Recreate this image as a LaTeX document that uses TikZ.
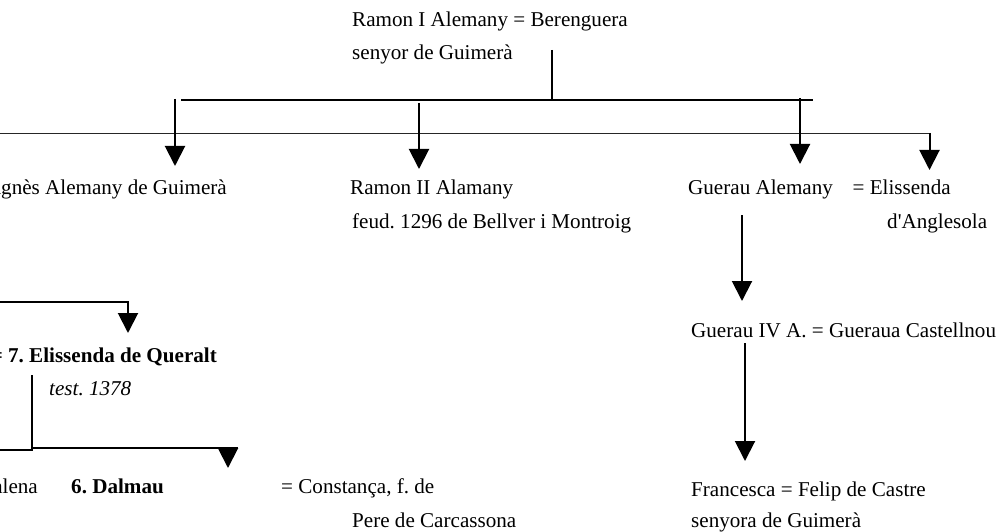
\documentclass[tikz,border=0pt]{standalone}
\usepackage{fontspec}
\setmainfont{Liberation Serif}
\usetikzlibrary{arrows.meta}
\frenchspacing
\begin{document}
\begin{tikzpicture}[x=1pt,y=-1pt,
  txt/.style={anchor=base west, inner sep=0pt, font=\fontsize{21.1pt}{25pt}\selectfont},
  txtr/.style={anchor=base east, inner sep=0pt, font=\fontsize{21.1pt}{25pt}\selectfont},
  lnk/.style={line width=2pt, black},
  lnkthin/.style={line width=1.6pt, black!85},
  arr/.style={lnk, -{Triangle[length=20pt,width=20pt]}}]
\useasboundingbox (0,0) rectangle (1001,532);
\fill[white] (0,0) rectangle (1001,532);
\clip (0,0) rectangle (1001,532);

% texts
\node[txt] (r1) at (352,27) {Ramon I Alemany = Berenguera};
\node[txt] (r1b) at (352,60) {senyor de Guimerà};
\node[txtr] (ag) at (227,194) {Agnès Alemany de Guimerà};
\node[txt] (r2) at (350,194) {Ramon II Alamany};
\node[txt] (r2b) at (352,228) {feud. 1296 de Bellver i Montroig};
\node[txt] (ga) at (688,194) {Guerau Alemany\hspace{19.7pt}= Elissenda};
\node[txt] (ang) at (887,228) {d\textquotesingle Anglesola};
\node[txt] (g4) at (691,337) {Guerau IV A. = Gueraua Castellnou};
\node[txt] (fr) at (691,496) {Francesca = Felip de Castre};
\node[txt] (frb) at (691,527) {senyora de Guimerà};
\node[txtr] (eq) at (217,362) {\bfseries = 7. Elissenda de Queralt};
\node[txt] (ts) at (49,395) {\itshape test. 1378};
\node[txtr] (mg) at (38,493) {Magdalena};
\node[txt] (dl) at (71,493) {\bfseries 6. Dalmau};
\node[txt] (co) at (281,493) {= Constança, f. de};
\node[txt] (pc) at (352,527) {Pere de Carcassona};

% coordinates
\coordinate (p1a) at (552,50);   \coordinate (p1b) at (552,100);
\coordinate (h1a) at (181,100);  \coordinate (h1b) at (813,100);
\coordinate (h2a) at (0,133.5);  \coordinate (h2b) at (930,133.5);
\coordinate (agA) at (175,99);   \coordinate (agB) at (175,166);
\coordinate (r2A) at (419,103);  \coordinate (r2B) at (419,169);
\coordinate (gaA) at (800,98);   \coordinate (gaB) at (800,164);
\coordinate (elA) at (929.5,133); \coordinate (elB) at (929.5,170);
\coordinate (g4A) at (742,215);  \coordinate (g4B) at (742,301);
\coordinate (frA) at (745,343);  \coordinate (frB) at (745,461);
\coordinate (qa) at (0,302);     \coordinate (qb) at (128,302);  \coordinate (qc) at (128,333);
\coordinate (da) at (32,375);    \coordinate (db) at (32,450);   \coordinate (dc) at (0,450);
\coordinate (dd) at (32,448);    \coordinate (de) at (238,448);
\coordinate (dtA) at (228,448);  \coordinate (dtB) at (228,468);

% lines
\draw[lnk] (p1a) -- (p1b);
\draw[lnk] (h1a) -- (h1b);
\draw[lnkthin] (h2a) -- (h2b);
\draw[arr] (agA) -- (agB);
\draw[arr] (r2A) -- (r2B);
\draw[arr] (gaA) -- (gaB);
\draw[arr] (elA) -- (elB);
\draw[arr] (g4A) -- (g4B);
\draw[arr] (frA) -- (frB);
\draw[arr] (qa) -- (qb) -- (qc);
\draw[lnk] (da) -- (db) -- (dc);
\draw[lnk] (dd) -- (de);
\draw[arr] (dtA) -- (dtB);
\end{tikzpicture}
\end{document}
